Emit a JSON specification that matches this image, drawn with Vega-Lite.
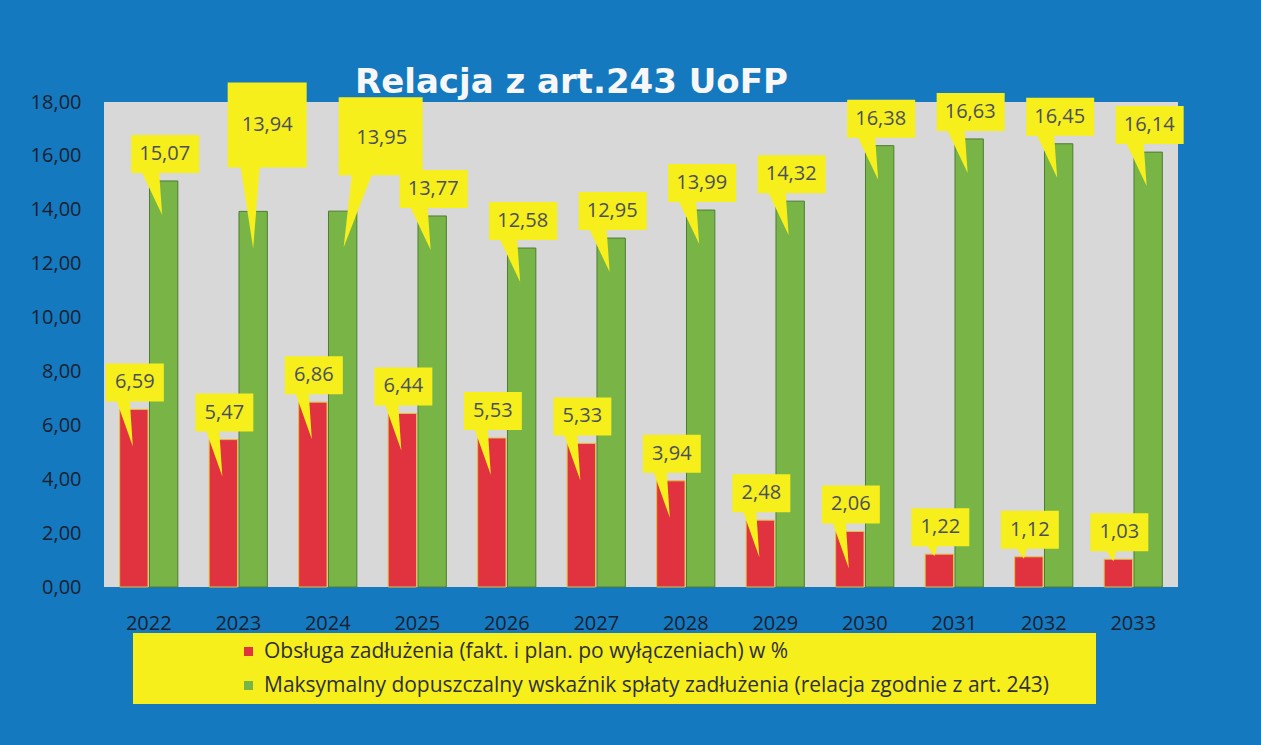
{
  "$schema": "https://vega.github.io/schema/vega-lite/v6.json",
  "autosize": {"type": "none"},
  "width": 1074,
  "height": 485,
  "padding": {"left": 104, "top": 102, "right": 83, "bottom": 158},
  "background": "#1479bf",
  "title": {
    "text": "Relacja z art.243 UoFP",
    "anchor": "start",
    "frame": "group",
    "dx": 251,
    "offset": -18,
    "font": "DejaVu Sans",
    "fontSize": 34,
    "fontWeight": "bold",
    "color": "#f7f7f7"
  },
  "config": {
    "locale": {"number": {"decimal": ",", "thousands": " ", "grouping": [3], "currency": ["", " zł"]}},
    "view": {"fill": "#d8d8d8", "stroke": null},
    "font": "Open Sans"
  },
  "data": {
    "values": [
      {"rok": "2022", "seria": "Obsługa zadłużenia (fakt. i plan. po wyłączeniach) w %", "wartosc": 6.59},
      {"rok": "2023", "seria": "Obsługa zadłużenia (fakt. i plan. po wyłączeniach) w %", "wartosc": 5.47},
      {"rok": "2024", "seria": "Obsługa zadłużenia (fakt. i plan. po wyłączeniach) w %", "wartosc": 6.86},
      {"rok": "2025", "seria": "Obsługa zadłużenia (fakt. i plan. po wyłączeniach) w %", "wartosc": 6.44},
      {"rok": "2026", "seria": "Obsługa zadłużenia (fakt. i plan. po wyłączeniach) w %", "wartosc": 5.53},
      {"rok": "2027", "seria": "Obsługa zadłużenia (fakt. i plan. po wyłączeniach) w %", "wartosc": 5.33},
      {"rok": "2028", "seria": "Obsługa zadłużenia (fakt. i plan. po wyłączeniach) w %", "wartosc": 3.94},
      {"rok": "2029", "seria": "Obsługa zadłużenia (fakt. i plan. po wyłączeniach) w %", "wartosc": 2.48},
      {"rok": "2030", "seria": "Obsługa zadłużenia (fakt. i plan. po wyłączeniach) w %", "wartosc": 2.06},
      {"rok": "2031", "seria": "Obsługa zadłużenia (fakt. i plan. po wyłączeniach) w %", "wartosc": 1.22},
      {"rok": "2032", "seria": "Obsługa zadłużenia (fakt. i plan. po wyłączeniach) w %", "wartosc": 1.12},
      {"rok": "2033", "seria": "Obsługa zadłużenia (fakt. i plan. po wyłączeniach) w %", "wartosc": 1.03},
      {"rok": "2022", "seria": "Maksymalny dopuszczalny wskaźnik spłaty  zadłużenia (relacja zgodnie z art. 243)", "wartosc": 15.07},
      {"rok": "2023", "seria": "Maksymalny dopuszczalny wskaźnik spłaty  zadłużenia (relacja zgodnie z art. 243)", "wartosc": 13.94},
      {"rok": "2024", "seria": "Maksymalny dopuszczalny wskaźnik spłaty  zadłużenia (relacja zgodnie z art. 243)", "wartosc": 13.95},
      {"rok": "2025", "seria": "Maksymalny dopuszczalny wskaźnik spłaty  zadłużenia (relacja zgodnie z art. 243)", "wartosc": 13.77},
      {"rok": "2026", "seria": "Maksymalny dopuszczalny wskaźnik spłaty  zadłużenia (relacja zgodnie z art. 243)", "wartosc": 12.58},
      {"rok": "2027", "seria": "Maksymalny dopuszczalny wskaźnik spłaty  zadłużenia (relacja zgodnie z art. 243)", "wartosc": 12.95},
      {"rok": "2028", "seria": "Maksymalny dopuszczalny wskaźnik spłaty  zadłużenia (relacja zgodnie z art. 243)", "wartosc": 13.99},
      {"rok": "2029", "seria": "Maksymalny dopuszczalny wskaźnik spłaty  zadłużenia (relacja zgodnie z art. 243)", "wartosc": 14.32},
      {"rok": "2030", "seria": "Maksymalny dopuszczalny wskaźnik spłaty  zadłużenia (relacja zgodnie z art. 243)", "wartosc": 16.38},
      {"rok": "2031", "seria": "Maksymalny dopuszczalny wskaźnik spłaty  zadłużenia (relacja zgodnie z art. 243)", "wartosc": 16.63},
      {"rok": "2032", "seria": "Maksymalny dopuszczalny wskaźnik spłaty  zadłużenia (relacja zgodnie z art. 243)", "wartosc": 16.45},
      {"rok": "2033", "seria": "Maksymalny dopuszczalny wskaźnik spłaty  zadłużenia (relacja zgodnie z art. 243)", "wartosc": 16.14}
    ]
  },
  "encoding": {
    "x": {
      "field": "rok", "type": "nominal",
      "scale": {"type": "band", "paddingInner": 0.35, "paddingOuter": 0.175},
      "axis": {"title": null, "labelAngle": 0, "domain": false, "ticks": false, "grid": false, "labelFont": "Open Sans", "labelFontSize": 20, "labelColor": "#1b2130", "labelPadding": 26}
    },
    "xOffset": {
      "field": "seria", "type": "nominal",
      "scale": {"domain": ["Obsługa zadłużenia (fakt. i plan. po wyłączeniach) w %", "Maksymalny dopuszczalny wskaźnik spłaty  zadłużenia (relacja zgodnie z art. 243)"], "paddingInner": 0.05}
    },
    "y": {
      "field": "wartosc", "type": "quantitative",
      "scale": {"domain": [0, 18], "nice": false},
      "axis": {"title": null, "values": [0, 2, 4, 6, 8, 10, 12, 14, 16, 18], "format": ".2f", "domain": false, "ticks": false, "grid": false, "labelFont": "Open Sans", "labelFontSize": 20, "labelColor": "#1b2130", "labelPadding": 23}
    }
  },
  "layer": [
    {
      "mark": {"type": "bar", "strokeWidth": 1},
      "encoding": {
        "color": {
          "field": "seria", "type": "nominal",
          "scale": {"domain": ["Obsługa zadłużenia (fakt. i plan. po wyłączeniach) w %", "Maksymalny dopuszczalny wskaźnik spłaty  zadłużenia (relacja zgodnie z art. 243)"], "range": ["#e0323f", "#78b446"]},
          "legend": {
            "title": null,
            "orient": "none",
            "legendX": 29,
            "legendY": 531,
            "direction": "vertical",
            "fillColor": "#f6ef1b",
            "padding": 8,
            "rowPadding": 12,
            "symbolType": "square",
            "symbolSize": 81,
            "symbolStrokeWidth": 0,
            "symbolOffset": 97,
            "labelOffset": 5,
            "labelFont": "Open Sans",
            "labelFontSize": 21,
            "labelColor": "#2e2f3a",
            "labelLimit": 1000,
            "labelExpr": "datum.label + '\u00a0\u00a0\u00a0\u00a0\u00a0\u00a0\u200b'"
          }
        },
        "stroke": {
          "field": "seria", "type": "nominal",
          "scale": {"domain": ["Obsługa zadłużenia (fakt. i plan. po wyłączeniach) w %", "Maksymalny dopuszczalny wskaźnik spłaty  zadłużenia (relacja zgodnie z art. 243)"], "range": ["#e6c03c", "#4e7c33"]},
          "legend": null
        }
      }
    },
    {
      "transform": [{"filter": {"and": [{"field": "seria", "equal": "Obsługa zadłużenia (fakt. i plan. po wyłączeniach) w %"}, {"field": "wartosc", "gte": 2}]}}],
      "mark": {"type": "point", "shape": "M-0.56,-0.92L0.6,-0.92L0.6,-0.16L-0.08,-0.16L-0.02,0.74L-0.34,-0.16L-0.56,-0.16Z", "size": 10000, "filled": true, "fill": "#f6ef1b", "opacity": 1, "strokeWidth": 0}
    },
    {
      "transform": [{"filter": {"and": [{"field": "seria", "equal": "Obsługa zadłużenia (fakt. i plan. po wyłączeniach) w %"}, {"field": "wartosc", "lt": 2}]}}],
      "mark": {"type": "point", "shape": "M-0.56,-0.92L0.6,-0.92L0.6,-0.16L-0.04,-0.16L-0.1,0.04L-0.24,-0.16L-0.56,-0.16Z", "size": 10000, "filled": true, "fill": "#f6ef1b", "opacity": 1, "strokeWidth": 0}
    },
    {
      "transform": [{"filter": {"and": [{"field": "seria", "equal": "Maksymalny dopuszczalny wskaźnik spłaty  zadłużenia (relacja zgodnie z art. 243)"}, {"not": {"field": "rok", "oneOf": ["2023", "2024"]}}]}}],
      "mark": {"type": "point", "shape": "M-0.65,-0.92L0.71,-0.92L0.71,-0.16L-0.09,-0.16L-0.03,0.68L-0.43,-0.16L-0.65,-0.16Z", "size": 10000, "filled": true, "fill": "#f6ef1b", "opacity": 1, "strokeWidth": 0}
    },
    {
      "transform": [{"filter": {"and": [{"field": "seria", "equal": "Maksymalny dopuszczalny wskaźnik spłaty  zadłużenia (relacja zgodnie z art. 243)"}, {"field": "rok", "equal": "2023"}]}}],
      "mark": {"type": "point", "shape": "M-0.51,-2.58L1.07,-2.58L1.07,-0.88L0.13,-0.88L0,0.74L-0.25,-0.88L-0.51,-0.88Z", "size": 10000, "filled": true, "fill": "#f6ef1b", "opacity": 1, "strokeWidth": 0}
    },
    {
      "transform": [{"filter": {"and": [{"field": "seria", "equal": "Maksymalny dopuszczalny wskaźnik spłaty  zadłużenia (relacja zgodnie z art. 243)"}, {"field": "rok", "equal": "2024"}]}}],
      "mark": {"type": "point", "shape": "M-0.08,-2.28L1.6,-2.28L1.6,-0.72L0.58,-0.72L0.02,0.72L0.18,-0.72L-0.08,-0.72Z", "size": 10000, "filled": true, "fill": "#f6ef1b", "opacity": 1, "strokeWidth": 0}
    },
    {
      "transform": [{"filter": {"or": [{"field": "seria", "equal": "Obsługa zadłużenia (fakt. i plan. po wyłączeniach) w %"}, {"not": {"field": "rok", "oneOf": ["2023", "2024"]}}]}}],
      "mark": {"type": "text", "dy": -27, "dx": 1, "font": "Open Sans", "fontSize": 20, "color": "#4b4f5c", "baseline": "middle", "align": "center"},
      "encoding": {"text": {"field": "wartosc", "type": "quantitative", "format": ".2f"}}
    },
    {
      "transform": [{"filter": {"and": [{"field": "seria", "equal": "Maksymalny dopuszczalny wskaźnik spłaty  zadłużenia (relacja zgodnie z art. 243)"}, {"field": "rok", "equal": "2023"}]}}],
      "mark": {"type": "text", "dy": -86, "dx": 14, "font": "Open Sans", "fontSize": 20, "color": "#4b4f5c", "baseline": "middle", "align": "center"},
      "encoding": {"text": {"field": "wartosc", "type": "quantitative", "format": ".2f"}}
    },
    {
      "transform": [{"filter": {"and": [{"field": "seria", "equal": "Maksymalny dopuszczalny wskaźnik spłaty  zadłużenia (relacja zgodnie z art. 243)"}, {"field": "rok", "equal": "2024"}]}}],
      "mark": {"type": "text", "dy": -73, "dx": 39, "font": "Open Sans", "fontSize": 20, "color": "#4b4f5c", "baseline": "middle", "align": "center"},
      "encoding": {"text": {"field": "wartosc", "type": "quantitative", "format": ".2f"}}
    }
  ]
}
